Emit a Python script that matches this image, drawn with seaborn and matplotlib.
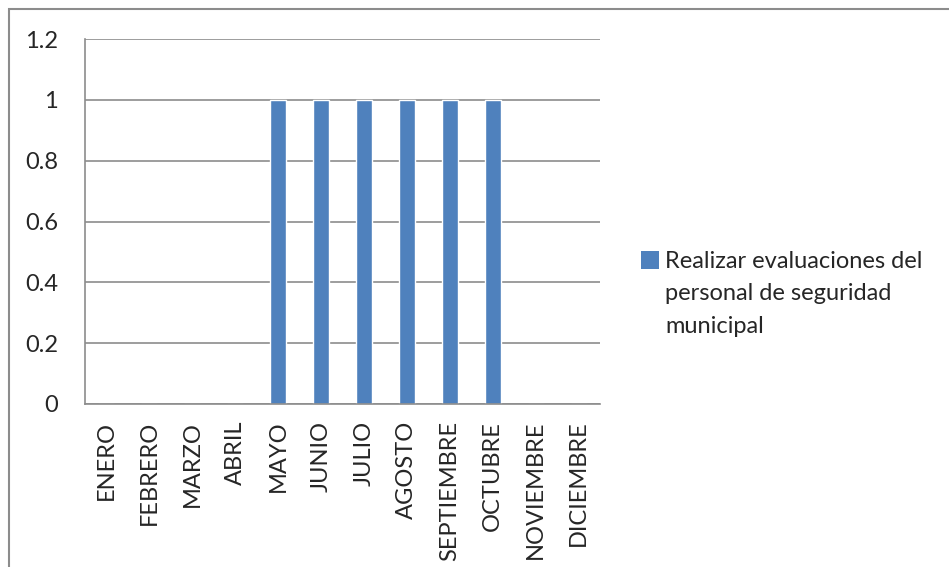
import matplotlib
matplotlib.use("Agg")
import matplotlib.pyplot as plt
from matplotlib.patches import Patch, Rectangle
import seaborn as sns
import pandas as pd

meses = ['ENERO', 'FEBRERO', 'MARZO', 'ABRIL', 'MAYO', 'JUNIO', 'JULIO',
         'AGOSTO', 'SEPTIEMBRE', 'OCTUBRE', 'NOVIEMBRE', 'DICIEMBRE']
valores = [0, 0, 0, 0, 1, 1, 1, 1, 1, 1, 0, 0]
serie = ['Realizar evaluaciones del', 'personal de seguridad', 'municipal']
y_ticks = [0, 0.2, 0.4, 0.6, 0.8, 1, 1.2]
y_labels = ['0', '0.2', '0.4', '0.6', '0.8', '1', '1.2']

df = pd.DataFrame({'Mes': meses, 'Valor': valores})

azul = '#4F81BD'
gris = '#8c8c8c'
fs = 17

sns.set_style('white')
plt.rcParams['font.family'] = ['Lato', 'DejaVu Sans']

fig = plt.figure(figsize=(9.49, 5.67), dpi=100)
ax = fig.add_axes([85 / 949, 1 - 404 / 567, 515 / 949, 365 / 567])

sns.barplot(data=df, x='Mes', y='Valor', color=azul, width=0.373,
            saturation=1, ax=ax)

ax.set_xlim(-0.5, len(meses) - 0.5)
ax.set_ylim(0, 1.2)
ax.set_yticks(y_ticks)
ax.set_yticklabels(y_labels, fontsize=fs)
ax.yaxis.grid(True, color=gris, linewidth=1.2)
ax.set_axisbelow(True)
ax.tick_params(axis='y', length=6.5, width=1.2, color=gris, pad=13)

ax.set_xticks(range(len(meses)))
ax.set_xticklabels(meses, rotation=90, fontsize=fs)
ax.tick_params(axis='x', which='major', length=0, pad=12)
ax.set_xticks([i - 0.5 for i in range(len(meses) + 1)], minor=True)
ax.tick_params(axis='x', which='minor', length=6.5, width=1.2, color=gris)
ax.set_xlabel('')
ax.set_ylabel('')

for side in ['top', 'right']:
    ax.spines[side].set_visible(False)
for side in ['left', 'bottom']:
    ax.spines[side].set_color(gris)
    ax.spines[side].set_linewidth(1.2)

# legend: marker next to the first line only, like Excel
handles = [Patch(facecolor=azul, edgecolor='none')] + \
          [Patch(facecolor='none', edgecolor='none') for _ in serie[1:]]
fig.legend(handles, serie, loc='center left',
           bbox_to_anchor=(632 / 949, 1 - 294 / 567), frameon=False,
           fontsize=fs, handlelength=0.75, handleheight=0.75,
           handletextpad=0.25, labelspacing=0.48, borderaxespad=0)

fig.patches.append(Rectangle((9 / 949, -0.1), 1.1, 1.1 - 9 / 567,
                             transform=fig.transFigure, fill=False,
                             edgecolor=gris, linewidth=1.5))

fig.savefig('out.png', dpi=100)
